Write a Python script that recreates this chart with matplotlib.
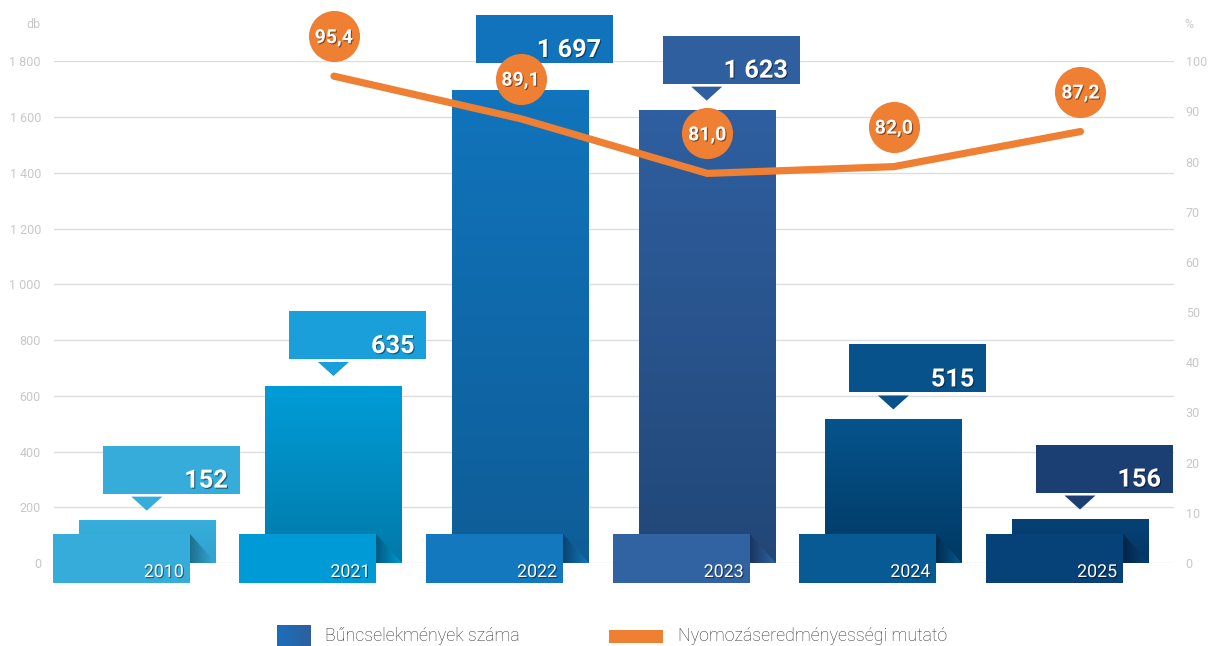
import numpy as np
import matplotlib
matplotlib.use('Agg')
import matplotlib.pyplot as plt
from matplotlib.patches import Polygon, Rectangle
from matplotlib import patheffects as pe
from matplotlib.transforms import ScaledTranslation
from matplotlib.colors import to_rgb

# ---------------- data ----------------
years = ['2010', '2021', '2022', '2023', '2024', '2025']
counts = [152, 635, 1697, 1623, 515, 156]
rates = [np.nan, 95.4, 89.1, 81.0, 82.0, 87.2]
count_ticks = list(range(0, 1801, 200))
rate_ticks = list(range(0, 101, 10))
legend_labels = ['Bűncselekmények száma', 'Nyomozáseredményességi mutató']

# ---------------- styles ----------------
bar_top = ['#37aedb', '#009cd7', '#1174bc', '#2f5fa0', '#06548c', '#064176']
bar_bot = ['#2fa2cf', '#007aa9', '#0e5d97', '#224777', '#003964', '#033765']
box_col = ['#35acd9', '#1a9fdb', '#1173bb', '#2f5f9f', '#07528a', '#1b3f72']
year_col = ['#35acd9', '#009bd6', '#1378bd', '#3163a3', '#075a94', '#064177']
fold_dark = ['#1d6f91', '#005a80', '#0b4470', '#1a3760', '#002b4e', '#022647']
ORANGE = '#ef7f33'
TICK_C = '#c8c8c8'
GRID_C = '#dddddd'
FONT = 'Roboto'

W, H, DPI = 1208, 646, 100
fig = plt.figure(figsize=(W / DPI, H / DPI), dpi=DPI)
fig.patch.set_facecolor('white')

ax = fig.add_axes([54 / W, 83 / H, 1119.8 / W, 501.7 / H])
ax.set_zorder(0)
xs = np.arange(len(years))
BW = 0.734

bars = ax.bar(xs, counts, width=BW, color=bar_bot, zorder=2, linewidth=0)


def grad_img(axx, clip, extent, c1, c2, horizontal=False, zorder=2.1):
    n = 64
    t = np.linspace(0, 1, n)
    a = np.array(to_rgb(c1))
    b = np.array(to_rgb(c2))
    cols = a[None, :] * (1 - t[:, None]) + b[None, :] * t[:, None]
    img = cols[None, :, :] if horizontal else cols[:, None, :]
    axx.imshow(img, extent=extent, origin='upper', aspect='auto',
               interpolation='bilinear', zorder=zorder, clip_path=clip)


for i, b in enumerate(bars):
    grad_img(ax, b, (xs[i] - BW / 2, xs[i] + BW / 2, 0, counts[i]),
             bar_top[i], bar_bot[i], zorder=2.1)

ax.set_xlim(-0.5, 5.5)
ax.set_ylim(0, 1800)
ax.set_yticks(count_ticks)
ax.set_yticklabels([f"{v:,}".replace(',', ' ') for v in count_ticks])
ax.set_xticks([])
ax.yaxis.grid(True, color=GRID_C, lw=1)
ax.set_axisbelow(True)
for s in ax.spines.values():
    s.set_visible(False)
ax.tick_params(axis='y', length=0, pad=9.4, labelcolor=TICK_C, labelsize=9)
for lab in ax.get_yticklabels():
    lab.set_fontfamily(FONT)

ax_r = ax.twinx()
ax_r.set_zorder(1)
ax_r.set_ylim(0, 100)
ax_r.set_yticks(rate_ticks)
for s in ax_r.spines.values():
    s.set_visible(False)
ax_r.tick_params(axis='y', length=0, pad=8.6, labelcolor=TICK_C, labelsize=9)
for lab in ax_r.get_yticklabels():
    lab.set_fontfamily(FONT)

fig.text(33.5 / W, 1 - 25 / H, 'db', color=TICK_C, fontsize=9, family=FONT,
         ha='center', va='center')
fig.text(1189 / W, 1 - 25 / H, '%', color=TICK_C, fontsize=9, family=FONT,
         ha='center', va='center')

# overlay axis in pixel coordinates
ax_px = fig.add_axes([0, 0, 1, 1])
ax_px.set_zorder(2)
ax_px.patch.set_visible(False)
ax_px.axis('off')

shadow = [pe.SimplePatchShadow(offset=(0.8, -0.8), shadow_rgbFace='black', alpha=0.45), pe.Normal()]

base_y = ax.transData.transform((0, 0))[1]
for i in range(len(years)):
    xl = ax.transData.transform((xs[i] - BW / 2, 0))[0]
    xr = ax.transData.transform((xs[i] + BW / 2, 0))[0]
    xc = (xl + xr) / 2
    ty = ax.transData.transform((0, counts[i]))[1]
    bw = xr - xl
    # year box
    yl = xl - 26
    yr = yl + bw
    ax_px.add_patch(Rectangle((yl, base_y - 20), bw, 49, facecolor=year_col[i],
                              edgecolor='none', zorder=3))
    fold = Polygon([(yr, base_y + 29), (yr, base_y), (xr, base_y)], closed=True,
                   facecolor='none', edgecolor='none', zorder=3)
    ax_px.add_patch(fold)
    grad_img(ax_px, fold, (yr, xr, base_y, base_y + 29), fold_dark[i], year_col[i],
             horizontal=True, zorder=3)
    ax_px.text(yr - 6, base_y - 14, years[i], color='white', fontsize=12.8,
               family=FONT, ha='right', va='baseline', zorder=4, path_effects=shadow)
    # value box
    bl = xl + 24
    bb = ty + 27
    ax_px.add_patch(Rectangle((bl, bb), bw, 48, facecolor=box_col[i],
                              edgecolor='none', zorder=3))
    ax_px.add_patch(Polygon([(xc - 16, ty + 24), (xc + 15, ty + 24), (xc - 0.5, ty + 10)],
                            closed=True, facecolor=box_col[i], edgecolor='none', zorder=3))
    ax_px.text(bl + bw - 12, bb + 6, f"{counts[i]:,}".replace(',', ' '), color='white',
               fontsize=18.2, fontweight='bold', family=FONT, ha='right', va='baseline',
               zorder=4, path_effects=shadow)

# legend
leg_blue = Rectangle((277, 0), 34, 21, facecolor='none', edgecolor='none')
ax_px.add_patch(leg_blue)
grad_img(ax_px, leg_blue, (277, 311, 0, 21), '#1a6fba', '#2e5fa0', horizontal=True, zorder=3)
ax_px.add_patch(Rectangle((609, 3), 54, 13, facecolor=ORANGE, edgecolor='none', zorder=3))
ax_px.text(325, 10, legend_labels[0], color='#333333', fontsize=12.8, family=FONT,
           fontweight='light', ha='left', va='center')
ax_px.text(678, 10, legend_labels[1], color='#333333', fontsize=12.8, family=FONT,
           fontweight='light', ha='left', va='center')
ax_px.set_xlim(0, W)
ax_px.set_ylim(0, H)

# line axis
ax_l = fig.add_axes(ax.get_position())
ax_l.set_zorder(3)
ax_l.patch.set_visible(False)
ax_l.axis('off')
ax_l.set_xlim(-0.5, 5.5)
ax_l.set_ylim(23.3, 97.6)
ax_l.plot(xs, rates, color=ORANGE, lw=5.2, solid_capstyle='round',
          solid_joinstyle='round', zorder=2)
up = ax_l.transData + ScaledTranslation(0, 40 / DPI, fig.dpi_scale_trans)
ax_l.plot(xs, rates, 'o', ms=36.8, color=ORANGE, mew=0, transform=up, zorder=3,
          clip_on=False)
for i in range(len(years)):
    if np.isnan(rates[i]):
        continue
    ax_l.annotate(f"{rates[i]:.1f}".replace('.', ','), (xs[i], rates[i]),
                  xytext=(0, 33), textcoords='offset pixels', ha='center',
                  va='baseline', color='white', fontsize=14, fontweight='bold',
                  family=FONT, zorder=4, path_effects=shadow, annotation_clip=False)

fig.savefig('out.png', dpi=DPI)
